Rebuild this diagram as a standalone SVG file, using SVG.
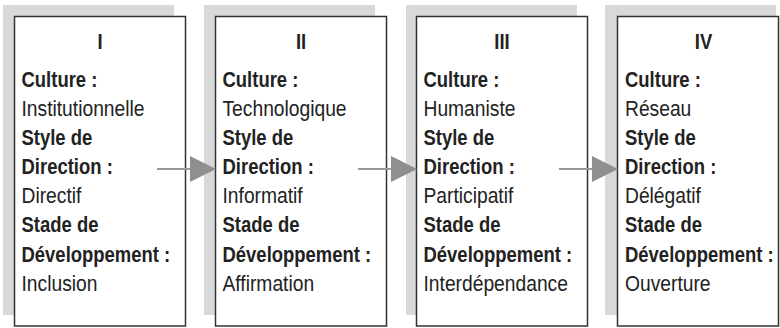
<svg xmlns="http://www.w3.org/2000/svg" width="780" height="328" viewBox="0 0 780 328">
  <style>
    .bg { fill: #d9d9d9; }
    .box { fill: #ffffff; stroke: #333333; stroke-width: 1.5; }
    text { font-family: "Liberation Sans", Arial, sans-serif; font-size: 22px; fill: #222222; }
    .b { font-weight: bold; }
    .t { font-weight: bold; text-anchor: middle; }
    .ln { stroke: #999999; stroke-width: 2; fill: none; }
    .hd { fill: #8f8f8f; }
  </style>
  <g id="panel1">
    <rect class="bg" x="3" y="5" width="171" height="310"/>
    <rect class="box" x="14.5" y="16.5" width="171" height="309.5"/>
    <g transform="translate(21.5,0) scale(0.84,1)">
      <text class="t" x="93.5" y="49">I</text>
      <text class="b" x="0" y="87">Culture :</text>
      <text class="b" x="0" y="145">Style de</text>
      <text class="b" x="0" y="174">Direction :</text>
      <text class="b" x="0" y="232">Stade de</text>
      <text class="b" x="0" y="262">Développement :</text>
    </g>
    <g transform="translate(21.5,0) scale(0.875,1)">
      <text x="0" y="116">Institutionnelle</text>
      <text x="0" y="203">Directif</text>
      <text x="0" y="291">Inclusion</text>
    </g>
  </g>
  <g id="panel2">
    <rect class="bg" x="204" y="5" width="171" height="310"/>
    <rect class="box" x="215.5" y="16.5" width="171" height="309.5"/>
    <g transform="translate(222.5,0) scale(0.84,1)">
      <text class="t" x="93.5" y="49">II</text>
      <text class="b" x="0" y="87">Culture :</text>
      <text class="b" x="0" y="145">Style de</text>
      <text class="b" x="0" y="174">Direction :</text>
      <text class="b" x="0" y="232">Stade de</text>
      <text class="b" x="0" y="262">Développement :</text>
    </g>
    <g transform="translate(222.5,0) scale(0.875,1)">
      <text x="0" y="116">Technologique</text>
      <text x="0" y="203">Informatif</text>
      <text x="0" y="291">Affirmation</text>
    </g>
  </g>
  <g id="panel3">
    <rect class="bg" x="406" y="5" width="171" height="310"/>
    <rect class="box" x="416.5" y="16.5" width="171" height="309.5"/>
    <g transform="translate(423.5,0) scale(0.84,1)">
      <text class="t" x="93.5" y="49">III</text>
      <text class="b" x="0" y="87">Culture :</text>
      <text class="b" x="0" y="145">Style de</text>
      <text class="b" x="0" y="174">Direction :</text>
      <text class="b" x="0" y="232">Stade de</text>
      <text class="b" x="0" y="262">Développement :</text>
    </g>
    <g transform="translate(423.5,0) scale(0.875,1)">
      <text x="0" y="116">Humaniste</text>
      <text x="0" y="203">Participatif</text>
      <text x="0" y="291">Interdépendance</text>
    </g>
  </g>
  <g id="panel4">
    <rect class="bg" x="605" y="5" width="171" height="310"/>
    <rect class="box" x="617.5" y="16.5" width="161" height="309.5"/>
    <g transform="translate(625,0) scale(0.84,1)">
      <text class="t" x="93.5" y="49">IV</text>
      <text class="b" x="0" y="87">Culture :</text>
      <text class="b" x="0" y="145">Style de</text>
      <text class="b" x="0" y="174">Direction :</text>
      <text class="b" x="0" y="232">Stade de</text>
      <text class="b" x="0" y="262">Développement :</text>
    </g>
    <g transform="translate(625,0) scale(0.875,1)">
      <text x="0" y="116">Réseau</text>
      <text x="0" y="203">Délégatif</text>
      <text x="0" y="291">Ouverture</text>
    </g>
  </g>
  <g id="connectors">
    <line class="ln" x1="157" y1="169" x2="192" y2="169"/>
    <polygon class="hd" points="190,156 216,169 190,182"/>
    <line class="ln" x1="358" y1="169" x2="393" y2="169"/>
    <polygon class="hd" points="391,156 417,169 391,182"/>
    <line class="ln" x1="559" y1="169" x2="594" y2="169"/>
    <polygon class="hd" points="592,156 618,169 592,182"/>
  </g>
</svg>
